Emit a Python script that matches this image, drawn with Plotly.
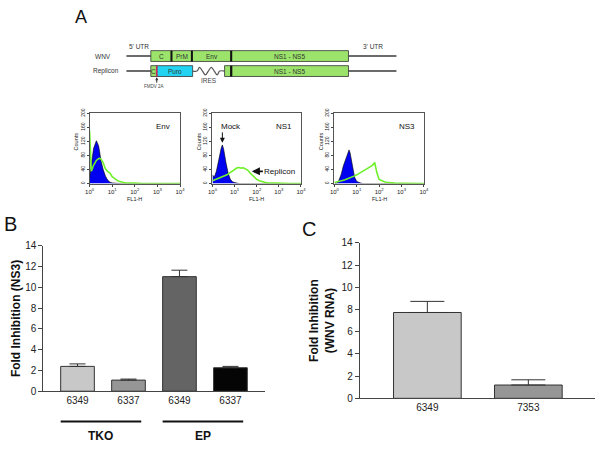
import plotly.graph_objects as go

# ---------------- data ----------------
# Panel B
b_labels = ["6349", "6337", "6349", "6337"]
b_values = [2.39, 1.07, 11.03, 2.26]
b_errors = [0.24, 0.10, 0.62, 0.13]
b_colors = ["#c8c8c8", "#969696", "#646464", "#050505"]
b_groups = ["TKO", "EP"]
b_group_members = [[0, 1], [2, 3]]

# Panel C
c_labels = ["6349", "7353"]
c_values = [7.73, 1.20]
c_errors = [1.00, 0.47]
c_colors = ["#c8c8c8", "#969696"]

# Panel A flow histograms (FL1-H channel values, counts)
fl1 = [1, 1.2, 1.5, 2, 2.5, 2.8, 3.2, 4, 4.5, 5, 6.3, 8, 10, 13, 16, 20, 25, 32,
       40, 50, 63, 80, 100, 130, 160, 200, 250, 320, 500, 1000, 3000, 10000]
env_mock = [15, 60, 100, 122, 108, 90, 65, 40, 30, 22, 10, 4, 2, 1, 0.5,
            0, 0, 0, 0, 0, 0, 0, 0, 0, 0, 0, 0, 0, 0, 0, 0, 0]
env_replicon = [150, 35, 52, 66, 71, 72, 70, 60, 50, 42, 35, 30, 20, 14, 10, 7,
                4, 3, 2, 1.5, 1, 1, 1, 0.8, 0.6, 0.5, 0.5, 0.5, 0.5, 0.5, 0.5, 0.5]
ns1_mock = [25, 18, 35, 75, 102, 110, 98, 62, 45, 32, 13, 5, 3, 1,
            0, 0, 0, 0, 0, 0, 0, 0, 0, 0, 0, 0, 0, 0, 0, 0, 0, 0]
ns1_replicon = [8, 10, 12, 15, 17, 18, 20, 24, 25, 27, 32, 37, 42, 45, 46, 44,
                45, 42, 38, 30, 24, 17, 12, 8, 6, 4, 3, 2, 1.5, 1, 0.5, 0.5]
ns3_mock = [0, 1, 5, 26, 50, 60, 72, 88, 96, 88, 50, 18, 6, 2, 1,
            0, 0, 0, 0, 0, 0, 0, 0, 0, 0, 0, 0, 0, 0, 0, 0, 0]
ns3_replicon = [3, 4, 5, 7, 9, 10, 12, 14, 15, 16, 19, 22, 25, 29, 33, 37, 40,
                44, 47, 52, 60, 30, 12, 8, 6, 4, 3, 2, 1.5, 1, 0.5, 0.5]
hist_titles = ["Env", "NS1", "NS3"]
hist_ticks = [1, 10, 100, 1000, 10000]
hist_ticktext = ["10<sup>0</sup>", "10<sup>1</sup>", "10<sup>2</sup>", "10<sup>3</sup>", "10<sup>4</sup>"]
count_ticks = [0, 40, 80, 120, 160, 200]
mock_peak_log, mock_peak_count = 0.447, 116
replicon_arrow_log, replicon_arrow_count = 1.78, 35

# Panel A genome diagram (diagram units along the genome)
genome_len = 11000
box_start, box_end = 1000, 9040
wnv_segments = [("C", 1000, 1840), ("PrM", 1840, 2670), ("Env", 2670, 4270), ("NS1 - NS5", 4270, 9040)]
rep_segments = [("C", 1000, 1240, "#9be36a"), ("Puro", 1240, 2700, "#22d4f2"),
                ("", 4000, 4270, "#9be36a"), ("NS1 - NS5", 4270, 9040, "#9be36a")]
ires_x = [2700, 2880, 2980, 3100, 3220, 3340, 3460, 3580, 3700, 3800, 4000]
ires_dy = [0, 0, 0.25, 0, -0.25, 0, 0.25, 0, -0.25, 0, 0]
fmdv_pos = 1240

# ---------------- figure ----------------
W, H = 600, 459
FONT = "Arial, Liberation Sans, sans-serif"
GREEN = "#9be36a"


def px(p):
    return p / W


def py(p):
    return 1 - p / H


fig = go.Figure()
ann = []
shapes = []


def note(**kw):
    kw.setdefault("xanchor", "center")
    kw.setdefault("yanchor", "middle")
    kw.setdefault("showarrow", False)
    ann.append(kw)


# ---- genome diagram (xaxis6 / yaxis6) ----
ROW_W, ROW_R = 1, 0
BW = 0.72
for row in (ROW_W, ROW_R):
    fig.add_trace(go.Scatter(x=[0, box_start, None, box_end, genome_len],
                             y=[row, row, None, row, row], mode="lines",
                             line=dict(color="#3a3a3a", width=1.5),
                             xaxis="x6", yaxis="y6", showlegend=False, hoverinfo="skip"))
fig.add_trace(go.Scatter(x=ires_x, y=[ROW_R + d for d in ires_dy], mode="lines",
                         line=dict(color="#555", width=1.2, shape="spline"),
                         xaxis="x6", yaxis="y6", showlegend=False, hoverinfo="skip"))
fig.add_trace(go.Bar(y=[ROW_W] * len(wnv_segments), x=[e - s for _, s, e in wnv_segments],
                     base=[s for _, s, e in wnv_segments], orientation="h", width=BW,
                     marker=dict(color=GREEN, line=dict(color="#333", width=0.8)),
                     xaxis="x6", yaxis="y6", showlegend=False, hoverinfo="skip"))
fig.add_trace(go.Bar(y=[ROW_R] * len(rep_segments), x=[e - s for _, s, e, c in rep_segments],
                     base=[s for _, s, e, c in rep_segments], orientation="h", width=BW,
                     marker=dict(color=[c for *_, c in rep_segments], line=dict(color="#333", width=0.8)),
                     xaxis="x6", yaxis="y6", showlegend=False, hoverinfo="skip"))
dx, dy = [], []
for _, s, e in wnv_segments[1:]:
    dx += [s, s, None]
    dy += [ROW_W - BW / 2, ROW_W + BW / 2, None]
fig.add_trace(go.Scatter(x=dx, y=dy, mode="lines", line=dict(color="#111", width=2),
                         xaxis="x6", yaxis="y6", showlegend=False, hoverinfo="skip"))
fig.add_trace(go.Scatter(x=[rep_segments[3][1], rep_segments[3][1]], y=[ROW_R - BW / 2, ROW_R + BW / 2],
                         mode="lines", line=dict(color="#111", width=2.2),
                         xaxis="x6", yaxis="y6", showlegend=False, hoverinfo="skip"))
fig.add_trace(go.Scatter(x=[fmdv_pos, fmdv_pos], y=[ROW_R - BW / 2, ROW_R + BW / 2],
                         mode="lines", line=dict(color="#c8285a", width=1.6),
                         xaxis="x6", yaxis="y6", showlegend=False, hoverinfo="skip"))

dfont = dict(family=FONT, size=6.5, color="#333")
for name, s, e in wnv_segments:
    note(x=(s + e) / 2, y=ROW_W, xref="x6", yref="y6", text=name, font=dfont)
for name, s, e, c in rep_segments:
    if name:
        note(x=(s + e) / 2, y=ROW_R, xref="x6", yref="y6", text=name, font=dfont)
note(x=box_start / 2, y=ROW_W + 0.62, xref="x6", yref="y6", text="5' UTR", font=dfont)
note(x=(box_end + genome_len) / 2, y=ROW_W + 0.62, xref="x6", yref="y6", text="3' UTR", font=dfont)
note(x=(ires_x[0] + ires_x[-1]) / 2, y=ROW_R - 0.6, xref="x6", yref="y6", text="IRES",
     font=dict(family=FONT, size=6.5, color="#444"))
note(x=fmdv_pos, y=ROW_R - BW / 2 - 0.05, xref="x6", yref="y6", text="", showarrow=True,
     ax=0, ay=7, arrowhead=2, arrowsize=0.6, arrowwidth=1, arrowcolor="#333")
note(x=fmdv_pos - 100, y=ROW_R - 1.02, xref="x6", yref="y6", text="FMDV 2A",
     font=dict(family=FONT, size=4.5, color="#444"))
note(x=px(100), y=py(52.3), xref="paper", yref="paper", text="WNV", font=dfont)
note(x=px(103), y=py(67.7), xref="paper", yref="paper", text="Replicon", font=dfont)

# ---- flow histograms ----
hist_x_dom = [(86, 178), (211, 301), (335, 426)]
hist_data = [(env_mock, env_replicon), (ns1_mock, ns1_replicon), (ns3_mock, ns3_replicon)]
HT, HB = 111, 183
for i, ((mock, rep), (l, r), title) in enumerate(zip(hist_data, hist_x_dom, hist_titles)):
    k = i + 3
    fig.add_trace(go.Scatter(x=fl1, y=mock, mode="lines", fill="tozeroy", fillcolor="#0000f0",
                             line=dict(color="#000", width=0.6), xaxis=f"x{k}", yaxis=f"y{k}",
                             showlegend=False, hoverinfo="skip"))
    fig.add_trace(go.Scatter(x=fl1, y=rep, mode="lines", line=dict(color="#6ef02a", width=1.6),
                             xaxis=f"x{k}", yaxis=f"y{k}", showlegend=False, hoverinfo="skip"))
    fig.update_layout(**{
        f"xaxis{k}": dict(domain=[px(l), px(r)], anchor=f"y{k}", type="log", range=[0, 4],
                          tickvals=hist_ticks, ticktext=hist_ticktext, ticks="outside", ticklen=2,
                          tickfont=dict(family=FONT, size=6, color="#222"), showline=True,
                          linecolor="#555", linewidth=1, mirror=True, showgrid=False, zeroline=False),
        f"yaxis{k}": dict(domain=[py(HB), py(HT)], anchor=f"x{k}", range=[0, 200], tickvals=count_ticks,
                          ticks="outside", ticklen=2, tickangle=-90,
                          tickfont=dict(family=FONT, size=5, color="#222"), showline=True,
                          linecolor="#555", linewidth=1, mirror=True, showgrid=False, zeroline=False),
    })
    note(x=px(r - 17), y=py(124), xref="paper", yref="paper", text=title,
         font=dict(family=FONT, size=8, color="#111"))
    note(x=px(l - 14), y=py(140), xref="paper", yref="paper", text="Counts", textangle=-90,
         font=dict(family=FONT, size=5.5, color="#222"))
    note(x=px((l + r) / 2), y=py(198.5), xref="paper", yref="paper", text="FL1-H",
         font=dict(family=FONT, size=5.5, color="#222"))

note(x=px(230), y=py(124), xref="paper", yref="paper", text="Mock",
     font=dict(family=FONT, size=8, color="#111"))
note(x=mock_peak_log, y=mock_peak_count, xref="x4", yref="y4", text="", showarrow=True, ax=0, ay=-12,
     arrowhead=2, arrowsize=1, arrowwidth=1, arrowcolor="#111")
note(x=replicon_arrow_log, y=replicon_arrow_count, xref="x4", yref="y4", text="Replicon",
     showarrow=True, ax=28, ay=0, arrowhead=2, arrowsize=0.9, arrowwidth=1.8, arrowcolor="#111",
     font=dict(family=FONT, size=8, color="#111"))

# ---- Panel B ----
B_BAR_W = 0.66
fig.add_trace(go.Bar(x=list(range(len(b_values))), y=b_values, width=B_BAR_W,
                     marker=dict(color=b_colors, line=dict(color="#333", width=1)),
                     error_y=dict(type="data", symmetric=False, array=b_errors,
                                  arrayminus=[0] * len(b_errors), color="#333", thickness=1, width=8),
                     xaxis="x", yaxis="y", showlegend=False))
axis_common = dict(showline=True, linecolor="#444", linewidth=1, showgrid=False, zeroline=False,
                   tickfont=dict(family=FONT, size=10, color="#222"))
fig.update_layout(
    xaxis=dict(domain=[px(39), px(264)], anchor="y", range=[-0.67, 3.67],
               tickvals=list(range(len(b_labels))), ticktext=b_labels, ticks="", **axis_common),
    yaxis=dict(domain=[py(395.7), py(246.7)], anchor="x", range=[0, 14], dtick=2, ticks="outside",
               ticklen=4, tickcolor="#444", **axis_common),
)
note(x=px(11), y=py(321), xref="paper", yref="paper", text="<b>Fold Inhibition (NS3)</b>",
     textangle=-90, font=dict(family=FONT, size=12, color="#111"))
for name, members in zip(b_groups, b_group_members):
    x0 = members[0] - B_BAR_W / 2
    x1 = members[-1] + B_BAR_W / 2 - 0.08
    shapes.append(dict(type="line", xref="x", yref="paper", x0=x0, x1=x1, y0=py(426.7), y1=py(426.7),
                       line=dict(color="#111", width=2)))
    note(x=(x0 + x1) / 2, y=py(441.7), xref="x", yref="paper", text=f"<b>{name}</b>",
         font=dict(family=FONT, size=12, color="#111"))

# ---- Panel C ----
C_BAR_W = 0.67
fig.add_trace(go.Bar(x=list(range(len(c_values))), y=c_values, width=C_BAR_W,
                     marker=dict(color=c_colors, line=dict(color="#333", width=1)),
                     error_y=dict(type="data", symmetric=False, array=c_errors,
                                  arrayminus=[0] * len(c_errors), color="#333", thickness=1, width=17),
                     xaxis="x2", yaxis="y2", showlegend=False))
fig.update_layout(
    xaxis2=dict(domain=[px(360.7), 1.0], anchor="y2", range=[-0.67, 1.66],
                tickvals=list(range(len(c_labels))), ticktext=c_labels, ticks="", **axis_common),
    yaxis2=dict(domain=[py(403), py(243.7)], anchor="x2", range=[0, 14], dtick=2, ticks="outside",
                ticklen=4, tickcolor="#444", **axis_common),
)
note(x=px(323), y=py(323), xref="paper", yref="paper",
     text="<b>Fold Inhibition<br>(WNV RNA)</b>", textangle=-90,
     font=dict(family=FONT, size=12, color="#111"))

# ---- panel letters ----
for letter, x, y, s in [("A", 77.5, 12.5, 18), ("B", 6, 224, 20), ("C", 309, 229, 20)]:
    note(x=px(x), y=py(y), xref="paper", yref="paper", text=letter,
         font=dict(family=FONT, size=s, color="#111"))

fig.update_layout(
    xaxis6=dict(domain=[px(123.3), px(398.3)], anchor="y6", range=[0, genome_len], visible=False),
    yaxis6=dict(domain=[py(88), py(36)], anchor="x6", range=[-1.318, 2.058], visible=False),
    barmode="overlay",
    width=W, height=H, margin=dict(l=0, r=0, t=0, b=0),
    paper_bgcolor="white", plot_bgcolor="rgba(0,0,0,0)",
    annotations=ann, shapes=shapes, showlegend=False,
)

fig.write_html("out.html", config={"displayModeBar": False},
               post_script="document.body.style.margin='0';document.body.style.overflow='hidden';")
